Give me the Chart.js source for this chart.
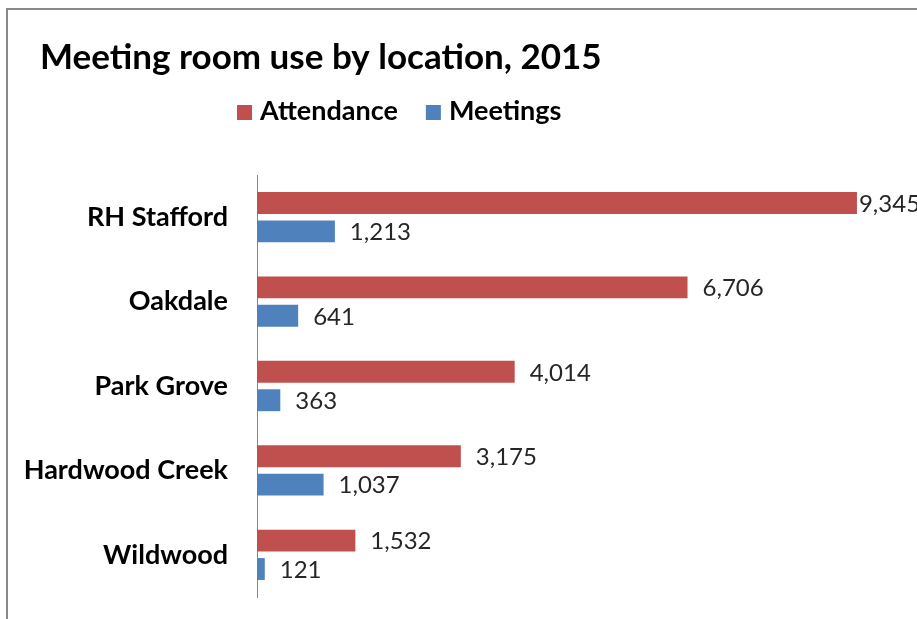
<!DOCTYPE html>
<html>
<head>
<meta charset="utf-8">
<title>Meeting room use by location, 2015</title>
<script src="https://cdn.jsdelivr.net/npm/chart.js@4.4.1/dist/chart.umd.min.js"></script>
<style>
  html, body { margin: 0; padding: 0; background: #ffffff; overflow: hidden; }
  #wrap { position: relative; width: 917px; height: 619px; }
</style>
</head>
<body>
<div id="wrap"><canvas id="chart" width="917" height="619"></canvas></div>
<script>
// Chart data
const chartTitle = 'Meeting room use by location, 2015';
const locations = ['RH Stafford', 'Oakdale', 'Park Grove', 'Hardwood Creek', 'Wildwood'];
const attendance = [9345, 6706, 4014, 3175, 1532];
const meetings = [1213, 641, 363, 1037, 121];
const seriesNames = ['Attendance', 'Meetings'];
const seriesColors = ['#C0504D', '#4F81BD'];
const valueAxisMax = 10000;

const FONT = "Lato, 'Open Sans', 'Liberation Sans', sans-serif";
const fmt = v => v.toLocaleString('en-US');

// Frame lines, title and legend drawn around the plot
const framePlugin = {
  id: 'frame',
  beforeDraw(chart) {
    const ctx = chart.ctx;
    ctx.save();
    ctx.fillStyle = '#ffffff';
    ctx.fillRect(0, 0, chart.width, chart.height);
    ctx.fillStyle = '#898989';
    ctx.fillRect(6, 8, chart.width - 6, 2);
    ctx.fillRect(6, 8, 2, chart.height - 8);
    ctx.restore();
  },
  afterDraw(chart) {
    const ctx = chart.ctx;
    ctx.save();
    // title
    ctx.fillStyle = '#000000';
    ctx.font = 'bold 35px ' + FONT;
    ctx.textAlign = 'left';
    ctx.textBaseline = 'alphabetic';
    ctx.fillText(chartTitle, 40, 69);
    // legend
    ctx.font = 'bold 27px ' + FONT;
    let x = 237;
    chart.data.datasets.forEach(ds => {
      ctx.fillStyle = ds.backgroundColor;
      ctx.fillRect(x, 105, 15, 15);
      ctx.fillStyle = '#000000';
      ctx.fillText(ds.label, x + 23, 120);
      x += 23 + ctx.measureText(ds.label).width + 28;
    });
    ctx.restore();
  }
};

// Value labels at the end of each bar
const valueLabels = {
  id: 'valueLabels',
  afterDatasetsDraw(chart) {
    const ctx = chart.ctx;
    ctx.save();
    ctx.font = '24px ' + FONT;
    ctx.fillStyle = '#262626';
    ctx.textAlign = 'left';
    ctx.textBaseline = 'middle';
    chart.data.datasets.forEach((ds, di) => {
      const meta = chart.getDatasetMeta(di);
      meta.data.forEach((bar, i) => {
        const text = fmt(ds.data[i]);
        const w = ctx.measureText(text).width;
        let tx = Math.min(bar.x + 15, chart.width - w);
        tx = Math.max(tx, bar.x + 2);
        ctx.fillText(text, tx, bar.y + 1);
      });
    });
    ctx.restore();
  }
};

new Chart(document.getElementById('chart'), {
  type: 'bar',
  data: {
    labels: locations,
    datasets: [
      { label: seriesNames[0], data: attendance, backgroundColor: seriesColors[0] },
      { label: seriesNames[1], data: meetings, backgroundColor: seriesColors[1] }
    ]
  },
  options: {
    indexAxis: 'y',
    responsive: false,
    animation: false,
    devicePixelRatio: 1,
    categoryPercentage: 0.674,
    barPercentage: 0.77,
    layout: { padding: { top: 175, bottom: 22, left: 0, right: 18 } },
    plugins: {
      legend: { display: false },
      title: { display: false },
      tooltip: { enabled: false }
    },
    scales: {
      x: {
        display: false,
        min: 0,
        max: valueAxisMax
      },
      y: {
        afterFit(scale) {
          scale.width = 257;
          scale.paddingTop = 0;
          scale.paddingBottom = 0;
        },
        grid: { display: false, drawTicks: false },
        border: { display: true, color: '#868686', width: 1 },
        ticks: {
          padding: 29,
          color: '#000000',
          font: { family: FONT, size: 27, weight: 'bold' }
        }
      }
    }
  },
  plugins: [framePlugin, valueLabels]
});
</script>
</body>
</html>
